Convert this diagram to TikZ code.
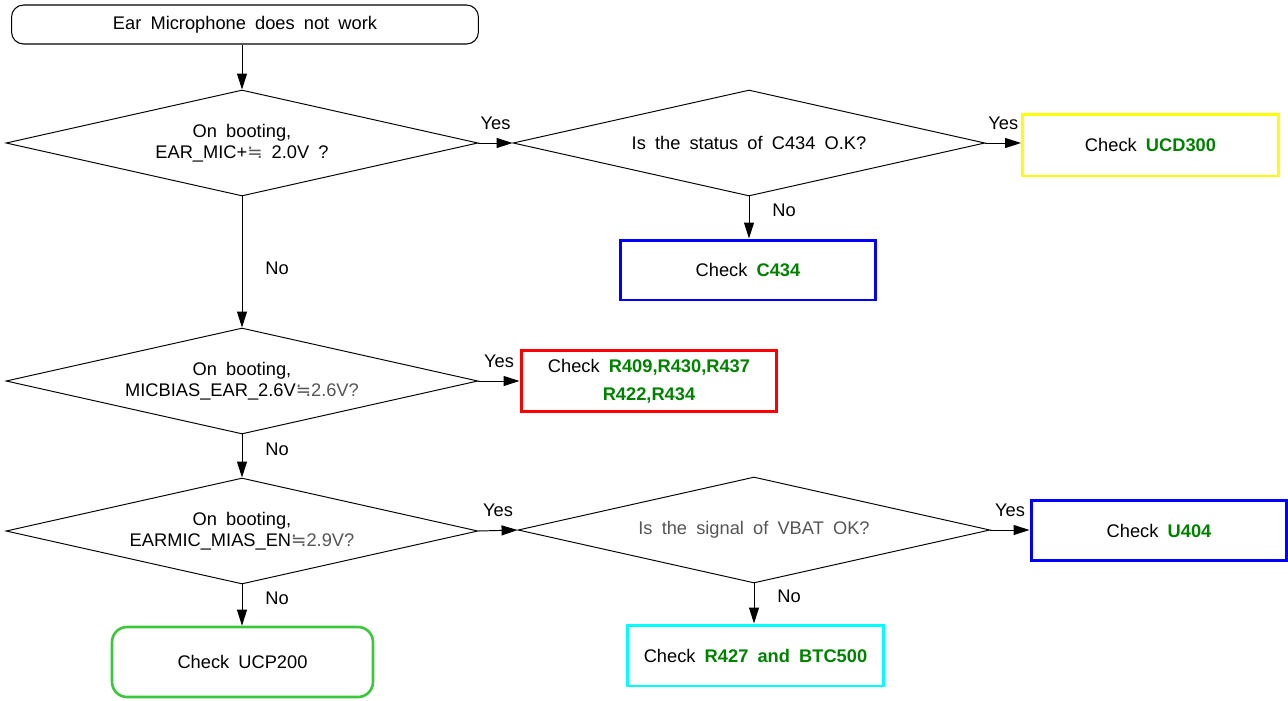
\documentclass[tikz,border=0pt]{standalone}
\usepackage{fontspec}
\setmainfont{Liberation Sans}[WordSpace=1.8]
\newfontfamily\symfont{DejaVu Sans}
\usetikzlibrary{shapes.geometric, arrows.meta}

\definecolor{partgreen}{RGB}{0,130,0}
\definecolor{boxgreen}{RGB}{60,200,60}
\definecolor{boxyellow}{RGB}{255,255,0}
\definecolor{boxblue}{RGB}{0,0,255}
\definecolor{boxred}{RGB}{255,0,0}
\definecolor{boxcyan}{RGB}{0,255,255}
\definecolor{softgray}{RGB}{85,85,85}
\newcommand{\apx}{{\symfont\textcolor{softgray}{≒}}}
\newcommand{\pn}[1]{\textbf{\textcolor{partgreen}{#1}}}

\begin{document}
\begin{tikzpicture}[x=0.02cm, y=-0.02cm, font=\fontsize{10.4}{11.8}\selectfont]
                \useasboundingbox (0,0) rectangle (1288,700);
                \begin{scope}[
                        every node/.style={align=center, inner sep=0pt},
                        decision/.style={diamond, draw, line width=0.55pt, shape aspect=4.5,
                            minimum width=9.44cm, minimum height=2.12cm},
                        checkbox/.style={draw, line width=1.7pt, minimum width=5.12cm, minimum height=1.2cm}
                    ]

                    \node[draw, line width=0.6pt, rounded corners=0.24cm, minimum width=9.34cm, minimum height=0.78cm] (start) at (245,24.5) {Ear Microphone does not work};

                    \node[decision] (d1) at (242,143) {On booting,\\EAR\_MIC+\apx\ 2.0V ?};
                    \node[decision] (d2) at (749,143) {Is the status of C434 O.K?};
                    \node[decision] (d3) at (242,381) {On booting,\\MICBIAS\_EAR\_2.6V\apx\textcolor{softgray}{2.6V?}};
                    \node[decision] (d4) at (242,531) {On booting,\\EARMIC\_MIAS\_EN\apx\textcolor{softgray}{2.9V?}};
                    \node[decision, text=softgray] (d5) at (754,530) {Is the signal of VBAT OK?};

                    \node[checkbox, draw=boxyellow, minimum height=1.24cm] (ucd) at (1150.5,145) {Check \pn{UCD300}};
                    \node[checkbox, draw=boxblue] (c434) at (748,270) {Check \pn{C434}};
                    \node[checkbox, draw=boxred, minimum height=1.22cm] (res) at (649,381) {Check \pn{R409,R430,R437}\\[4pt]\pn{R422,R434}};
                    \node[checkbox, draw=boxblue] (u404) at (1159,530.5) {Check \pn{U404}};
                    \node[checkbox, draw=boxcyan, minimum height=1.22cm] (btc) at (755.5,655.5) {Check \pn{R427 and BTC500}};
                    \node[draw=boxgreen, line width=1.5pt, rounded corners=0.3cm, minimum width=5.22cm, minimum height=1.4cm] (ucp) at (242.5,662) {Check UCP200};
                \end{scope}

                \begin{scope}[
                        every path/.style={line width=0.55pt, -{Triangle[length=0.32cm, width=0.2cm]}},
                        yes/.style={above=0.14cm, midway},
                        no/.style={right=0.34cm, midway, yshift=0.14cm}
                    ]
                    \draw (start.south -| d1.north) -- (d1.north);
                    \draw (d1.east) -- node[yes] {Yes} (d2.west);
                    \draw (d2.east) -- node[yes] {Yes} (d2.east -| ucd.west);
                    \draw (d2.south) -- node[no] {No} (d2.south |- c434.north);
                    \draw (d1.south) -- node[no, yshift=-0.26cm] {No} (d3.north);
                    \draw (d3.east) -- node[yes] {Yes} (d3.east -| res.west);
                    \draw (d3.south) -- node[no] {No} (d4.north);
                    \draw (d4.east) -- node[yes] {Yes} (d5.west);
                    \draw (d5.east) -- node[yes] {Yes} (d5.east -| u404.west);
                    \draw (d5.south) -- node[no] {No} (d5.south |- btc.north);
                    \draw (d4.south) -- node[no] {No} (d4.south |- ucp.north);
                \end{scope}
            \end{tikzpicture}
\end{document}
